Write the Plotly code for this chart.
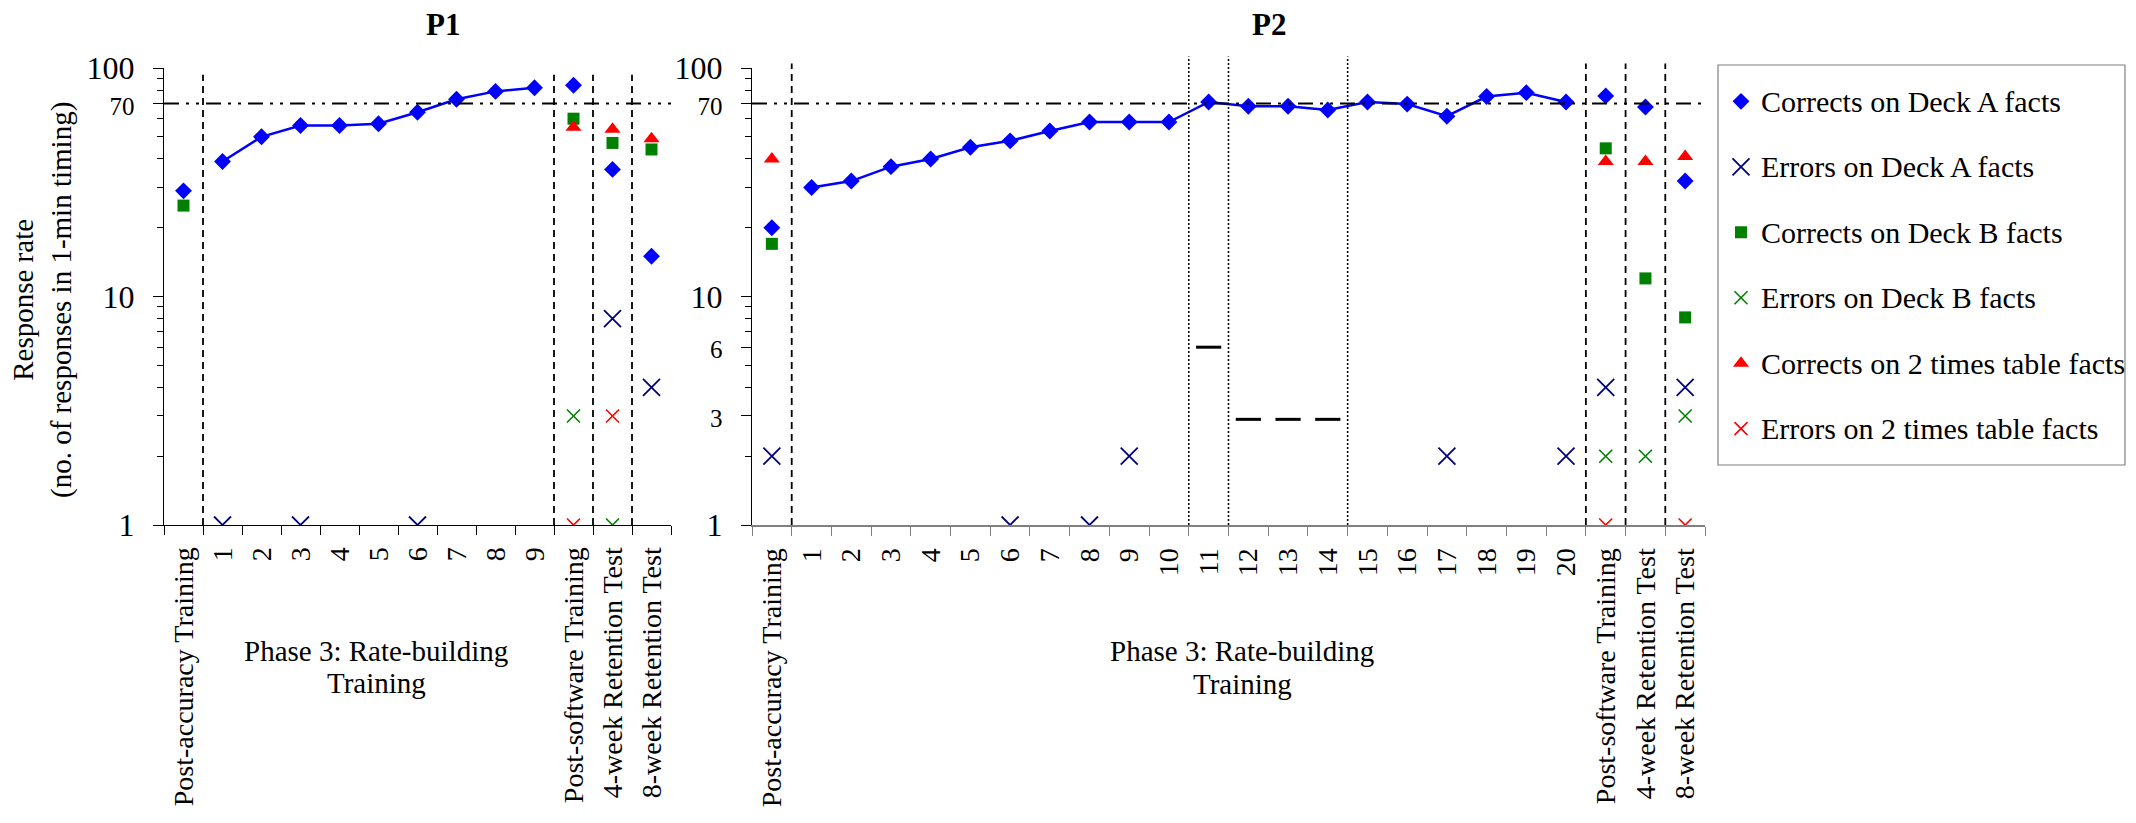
import plotly.graph_objects as go

W, H = 2136, 823

# ---------------- data ----------------
p1_categories = ["Post-accuracy Training", "1", "2", "3", "4", "5", "6", "7", "8", "9",
                 "Post-software Training", "4-week Retention Test", "8-week Retention Test"]
p1_deckA_correct = [29, 39, 50, 56, 56, 57, 64, 73, 79, 82, 84, 36, 15]
p1_deckA_errors = [None, 1, None, 1, None, None, 1, None, None, None, None, 8, 4]
p1_deckB_correct = [25, None, None, None, None, None, None, None, None, None, 60, 47, 44]
p1_deckB_errors = [None, None, None, None, None, None, None, None, None, None, 3, 1, None]
p1_times_correct = [None, None, None, None, None, None, None, None, None, None, 55, 54, 49]
p1_times_errors = [None, None, None, None, None, None, None, None, None, None, 1, 3, None]

p2_categories = ["Post-accuracy Training"] + [str(i) for i in range(1, 21)] + \
                ["Post-software Training", "4-week Retention Test", "8-week Retention Test"]
p2_deckA_correct = [20, 30, 32, 37, 40, 45, 48, 53, 58, 58, 58, 71, 68, 68, 65.5, 71, 69.5,
                    61.5, 75, 78, 71, 75.5, 67.5, 32]
p2_deckA_errors = [2, None, None, None, None, None, 1, None, 1, 2, None, None, None, None, None,
                   None, None, 2, None, None, 2, 4, None, 4]
p2_deckB_correct = [17] + [None] * 20 + [44.5, 12, 8.1]
p2_deckB_errors = [None] * 21 + [2, 2, 3]
p2_times_correct = [40] + [None] * 20 + [39, 39, 41]
p2_times_errors = [None] * 21 + [1, None, 1]
# short criterion marks in P2 (sessions 11-14)
p2_mark_sessions = ["11", "12", "13", "14"]
p2_mark_values = [6, 2.9, 2.9, 2.9]

aim_rate = 70
series_names = ["Corrects on Deck A facts", "Errors on Deck A facts", "Corrects on Deck B facts",
                "Errors on Deck B facts", "Corrects on 2 times table facts",
                "Errors on 2 times table facts"]

# ---------------- styles ----------------
FONT = "Liberation Serif, Times New Roman, serif"
styles = [
    dict(symbol="diamond", size=13, color="#0000FF", line=dict(width=0)),
    dict(symbol="x-thin", size=17, color="#000080", line=dict(width=1.8, color="#000080")),
    dict(symbol="square", size=12, color="#008000", line=dict(width=0)),
    dict(symbol="x-thin", size=13, color="#008000", line=dict(width=1.6, color="#008000")),
    dict(symbol="triangle-up", size=14, color="#FF0000", line=dict(width=0)),
    dict(symbol="x-thin", size=13, color="#FF0000", line=dict(width=1.6, color="#FF0000")),
]

fig = go.Figure()


def add_panel(cats, series, xa, ya, line_end):
    xs = list(range(len(cats)))
    A = series[0]
    fig.add_trace(go.Scatter(x=xs[1:line_end], y=A[1:line_end], mode="lines",
                             line=dict(color="#0000FF", width=2.5), showlegend=False,
                             hoverinfo="skip", xaxis=xa, yaxis=ya))
    for i, (name, vals) in enumerate(zip(series_names, series)):
        px = [x for x, v in zip(xs, vals) if v is not None]
        py = [v for v in vals if v is not None]
        fig.add_trace(go.Scatter(x=px, y=py, mode="markers", name=name, marker=styles[i],
                                 showlegend=False, xaxis=xa, yaxis=ya))


add_panel(p1_categories, [p1_deckA_correct, p1_deckA_errors, p1_deckB_correct, p1_deckB_errors,
                          p1_times_correct, p1_times_errors], "x", "y", 10)
add_panel(p2_categories, [p2_deckA_correct, p2_deckA_errors, p2_deckB_correct, p2_deckB_errors,
                          p2_times_correct, p2_times_errors], "x2", "y2", 21)

fig.add_trace(go.Scatter(x=[p2_categories.index(s) for s in p2_mark_sessions], y=p2_mark_values,
                         mode="markers", showlegend=False, hoverinfo="skip",
                         marker=dict(symbol="line-ew", size=18, color="black",
                                     line=dict(width=3, color="black")),
                         xaxis="x2", yaxis="y2"))

# ---------------- legend (own box, one row per series) ----------------
LEG_X0, LEG_X1, LEG_Y0, LEG_Y1 = 1718, 2125, 65, 465
n_series = len(series_names)
for i, name in enumerate(series_names):
    fig.add_trace(go.Scatter(x=[0], y=[i], mode="markers", marker=styles[i], name=name,
                             showlegend=False, hoverinfo="skip", xaxis="x3", yaxis="y3"))

# ---------------- axes ----------------
y_top = (823 - 68) / H
y_bot = (823 - 525) / H
p1_dom = [164 / W, 671 / W]
p2_dom = [752 / W, 1705 / W]

minor_vals = [2, 3, 4, 5, 6, 7, 8, 9, 20, 30, 40, 50, 60, 80, 90]


def small(t):
    return f"<span style='font-size:25px'>{t}</span>"


def yaxis(anchor, vals, text):
    return dict(type="log", range=[0, 2], domain=[y_bot, y_top], anchor=anchor,
                tickmode="array", tickvals=vals, ticktext=text, ticks="outside", ticklen=10,
                tickcolor="black", tickwidth=1.2, showline=True, linecolor="black",
                linewidth=1.2, showgrid=False, zeroline=False, ticklabelstandoff=12,
                tickfont=dict(family=FONT, size=32, color="black"),
                minor=dict(tickmode="array", tickvals=[v for v in minor_vals if v not in vals],
                           ticks="outside", ticklen=6, tickcolor="black", tickwidth=1.2),
                automargin=False)


def xaxis(dom, cats, ya, linecolor, lw):
    n = len(cats)
    return dict(domain=dom, anchor=ya, range=[-0.5, n - 0.5], tickmode="array",
                tickvals=list(range(n)), ticktext=cats, tickangle=-90, ticks="",
                showline=True, linecolor=linecolor, linewidth=lw, showgrid=False,
                zeroline=False, tickfont=dict(family=FONT, size=28, color="black"),
                ticklabelstandoff=10,
                minor=dict(tickmode="array", tickvals=[i - 0.5 for i in range(n + 1)],
                           ticks="outside", ticklen=9, tickcolor=linecolor, tickwidth=1.2),
                automargin=False)


leg_xdom = [LEG_X0 / W, LEG_X1 / W]
leg_ydom = [(823 - LEG_Y1) / H, (823 - LEG_Y0) / H]
box_w = LEG_X1 - LEG_X0
row_pad = 0.555

fig.update_layout(
    width=W, height=H, margin=dict(l=0, r=0, t=0, b=0, autoexpand=False),
    paper_bgcolor="white", plot_bgcolor="white",
    font=dict(family=FONT, color="black"),
    showlegend=False,
    xaxis=xaxis(p1_dom, p1_categories, "y", "black", 1.2),
    yaxis=yaxis("x", [1, 10, 70, 100], ["1", "10", small("70"), "100"]),
    xaxis2=xaxis(p2_dom, p2_categories, "y2", "#808080", 2.2),
    yaxis2=yaxis("x2", [1, 3, 6, 10, 70, 100], ["1", small("3"), small("6"), "10", small("70"), "100"]),
    xaxis3=dict(domain=leg_xdom, anchor="y3", range=[-23, box_w - 23], visible=False,
                fixedrange=True),
    yaxis3=dict(domain=leg_ydom, anchor="x3", range=[n_series - 1 + row_pad, -row_pad],
                visible=False, fixedrange=True),
)

shapes = []
shapes.append(dict(type="rect", xref="paper", yref="paper", x0=LEG_X0 / W, x1=LEG_X1 / W,
                   y0=(823 - LEG_Y1) / H, y1=(823 - LEG_Y0) / H,
                   line=dict(color="#808080", width=1.2)))


def vline(xa, ya, x, dash, width, top):
    shapes.append(dict(type="line", xref=xa, yref=ya + " domain", x0=x, x1=x, y0=0, y1=top,
                       line=dict(color="black", dash=dash, width=width)))


def hline(xa, ya, y):
    shapes.append(dict(type="line", xref=xa + " domain", yref=ya, x0=0, x1=1, y0=y, y1=y,
                       line=dict(color="black", dash="15px,7px,3px,7px,3px,7px", width=2)))


for x in [0.5, 9.5, 10.5, 11.5]:
    vline("x", "y", x, "7px,5px", 1.8, 0.985)
for x in [0.5, 20.5, 21.5, 22.5]:
    vline("x2", "y2", x, "7px,5px", 1.8, 1.01)
for x in [10.5, 11.5, 14.5]:
    vline("x2", "y2", x, "2px,2px", 1.5, 1.025)
hline("x", "y", aim_rate)
hline("x2", "y2", aim_rate)


def ann(text, x, y, size=29, angle=0):
    return dict(text=text, x=x / W, y=(823 - y) / H, xref="paper", yref="paper",
                xanchor="center", yanchor="middle", showarrow=False, textangle=angle,
                font=dict(family=FONT, size=size, color="black"))


annotations = [
    ann("<b>P1</b>", 443, 24, 31),
    ann("<b>P2</b>", 1269, 24, 31),
    ann("Response rate<br>(no. of responses in 1-min timing)", 42, 300, 29, -90),
    ann("Phase 3: Rate-building", 376, 651),
    ann("Training", 376, 683),
    ann("Phase 3: Rate-building", 1242, 651),
    ann("Training", 1242, 684),
]
for i, name in enumerate(series_names):
    annotations.append(dict(text=name, x=18, y=i, xref="x3", yref="y3", xanchor="left",
                            yanchor="middle", showarrow=False,
                            font=dict(family=FONT, size=30, color="black")))
fig.update_layout(shapes=shapes, annotations=annotations)

fig.write_html("out.html", config={"displayModeBar": False},
               post_script="document.body.style.margin='0px';")
